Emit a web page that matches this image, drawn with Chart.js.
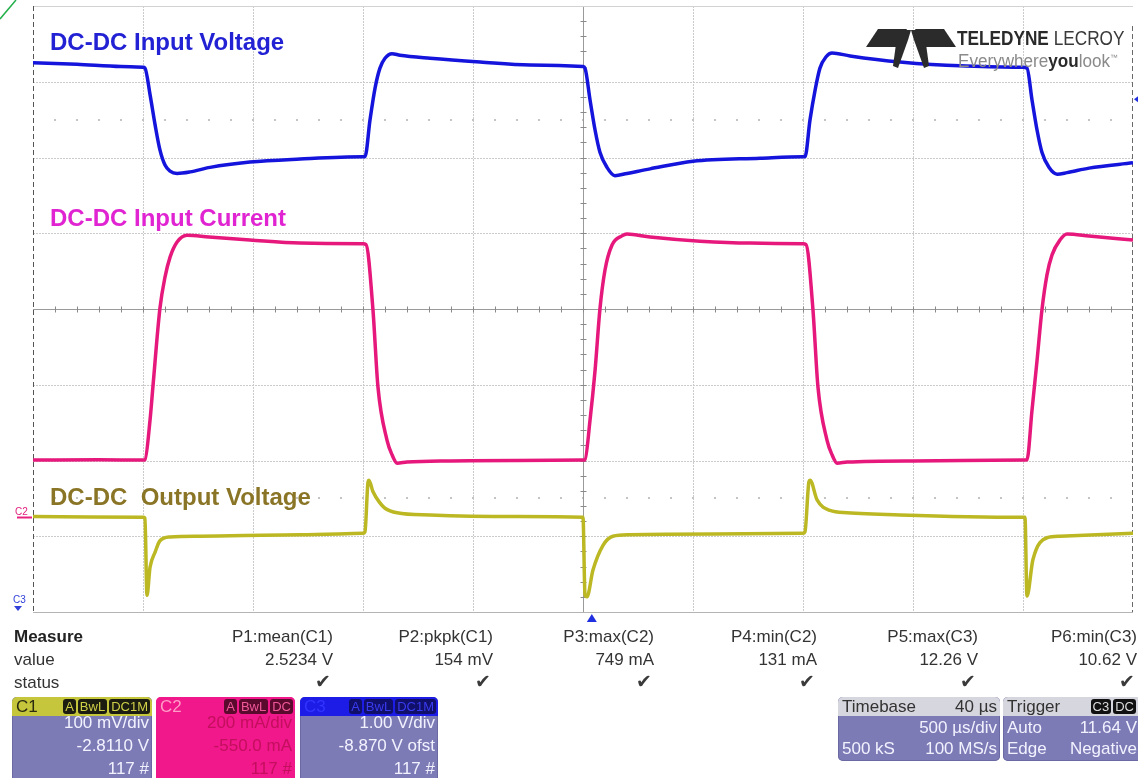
<!DOCTYPE html>
<html>
<head>
<meta charset="utf-8">
<title>DC-DC converter load step</title>
<script src="https://cdn.jsdelivr.net/npm/chart.js@4.4.1/dist/chart.umd.min.js"></script>
<style>
  html, body { margin: 0; padding: 0; background: #ffffff; }
  #wrap { position: relative; width: 1138px; height: 778px; overflow: hidden;
          font-family: "Liberation Sans", Arial, sans-serif; }
  #scope { position: absolute; left: 0; top: 0; }
  .trace-label { position: absolute; font-weight: bold; font-size: 24px; line-height: 24px;
                 white-space: pre; font-family: "Liberation Sans", Arial, sans-serif; }
  .logo-top { position: absolute; left: 957px; top: 27px; font-size: 21px; line-height: 21px;
              color: #2a2a2a; white-space: pre; transform-origin: 0 0; transform: scaleX(0.82); }
  .logo-top b { font-weight: bold; }
  .logo-top span { font-weight: normal; color: #3a3a3a; }
  .logo-sub { position: absolute; left: 958px; top: 49px; font-size: 18px; line-height: 18px;
              color: #8a8a8a; white-space: pre; transform-origin: 0 0; transform: scaleX(0.95); }
  .logo-sub b { color: #2a2a2a; }
  .logo-sub sup { font-size: 8px; }
  .mtxt { position: absolute; font-size: 17px; line-height: 17px; color: #333; white-space: pre; }
  .mhead { font-weight: bold; color: #222; }
  .check { position: absolute; font-family: "DejaVu Sans", sans-serif; font-size: 19px; line-height: 19px; color: #3a3a3a; }
  .box { position: absolute; top: 697px; border-radius: 5px; overflow: hidden;
         background: #7d7bb6; box-shadow: inset 0 0 0 1px #6b69a3; }
  .head { position: absolute; left: 0; right: 0; top: 0; height: 19px; }
  .head .name { position: absolute; left: 4px; top: 1px; font-size: 17px; line-height: 17px; }
  .badges { position: absolute; right: 2px; top: 2px; display: flex; gap: 2px; }
  .badges span { font-size: 13px; line-height: 15px; padding: 0 2px; border-radius: 3px; }
  .bl { position: absolute; font-size: 17px; line-height: 17px; color: #f2f2ff; white-space: pre; }
  .r { right: 3px; }
  .l { left: 4px; }
</style>
</head>
<body>
<div id="wrap">
  <canvas id="scope" width="1138" height="778"></canvas>

  <div class="trace-label" style="left:50px; top:30px; color:#2222d4;">DC-DC Input Voltage</div>
  <div class="trace-label" style="left:50px; top:206px; color:#e024d2;">DC-DC Input Current</div>
  <div class="trace-label" style="left:50px; top:485px; color:#8a7526;">DC-DC  Output Voltage</div>

  <div class="logo-top"><b>TELEDYNE</b> <span>LECROY</span></div>
  <div class="logo-sub">Everywhere<b>you</b>look<sup>™</sup></div>

  <div id="panel"></div>

  <!-- channel descriptor boxes -->
  <div class="box" style="left:12px; width:140px; height:90px;">
    <div class="head" style="background:#c6c63c;">
      <div class="name" style="color:#2a2a10;">C1</div>
      <div class="badges">
        <span style="background:#1c1c10; color:#cfcf48;">A</span>
        <span style="background:#1c1c10; color:#cfcf48;">BwL</span>
        <span style="background:#1c1c10; color:#cfcf48;">DC1M</span>
      </div>
    </div>
    <div class="bl r" style="top:17px;">100 mV/div</div>
    <div class="bl r" style="top:40px;">-2.8110 V</div>
    <div class="bl r" style="top:63px;">117 #</div>
  </div>

  <div class="box" style="left:156px; width:139px; height:90px; background:#f0188a; box-shadow:none;">
    <div class="head" style="background:#f0188a;">
      <div class="name" style="color:#ff9cc8;">C2</div>
      <div class="badges">
        <span style="background:#5a0a2c; color:#f0589c;">A</span>
        <span style="background:#5a0a2c; color:#f0589c;">BwL</span>
        <span style="background:#5a0a2c; color:#f0589c;">DC</span>
      </div>
    </div>
    <div class="bl r" style="top:17px; color:#c40e5e;">200 mA/div</div>
    <div class="bl r" style="top:40px; color:#c40e5e;">-550.0 mA</div>
    <div class="bl r" style="top:63px; color:#c40e5e;">117 #</div>
  </div>

  <div class="box" style="left:300px; width:138px; height:90px;">
    <div class="head" style="background:#1c1ce6;">
      <div class="name" style="color:#3434ff;">C3</div>
      <div class="badges">
        <span style="background:#10106a; color:#3a3af0;">A</span>
        <span style="background:#10106a; color:#3a3af0;">BwL</span>
        <span style="background:#10106a; color:#3a3af0;">DC1M</span>
      </div>
    </div>
    <div class="bl r" style="top:17px;">1.00 V/div</div>
    <div class="bl r" style="top:40px;">-8.870 V ofst</div>
    <div class="bl r" style="top:63px;">117 #</div>
  </div>

  <div class="box" style="left:838px; width:162px; height:64px;">
    <div class="head" style="background:#d6d6de;">
      <div class="name" style="color:#333;">Timebase</div>
      <div class="bl r" style="top:1px; color:#333;">40 µs</div>
    </div>
    <div class="bl r" style="top:22px;">500 µs/div</div>
    <div class="bl l" style="top:43px;">500 kS</div>
    <div class="bl r" style="top:43px;">100 MS/s</div>
  </div>

  <div class="box" style="left:1003px; width:140px; height:64px;">
    <div class="head" style="background:#d6d6de;">
      <div class="name" style="color:#333;">Trigger</div>
      <div class="badges" style="right:7px;">
        <span style="background:#111; color:#ddd;">C3</span>
        <span style="background:#111; color:#ddd;">DC</span>
      </div>
    </div>
    <div class="bl l" style="top:22px;">Auto</div>
    <div class="bl r" style="top:22px; right:6px;">11.64 V</div>
    <div class="bl l" style="top:43px;">Edge</div>
    <div class="bl r" style="top:43px; right:6px;">Negative</div>
  </div>
</div>

<script>
// ---- acquisition settings ----
const US_PER_DIV = 500;          // timebase
const H_DIVS = 10;
const V_DIVS = 8;
const TRIGGER_DELAY_US = 40;
const TRIGGER_LEVEL_V = 11.64;    // C3, negative edge

const C1_V_PER_DIV = 0.1,  C1_OFFSET_V = -2.811;   // output voltage
const C2_MA_PER_DIV = 200, C2_OFFSET_MA = -550;    // input current
const C3_V_PER_DIV = 1.0,  C3_OFFSET_V = -8.870;   // input voltage

// ---- C3: DC-DC input voltage (V) ----
const c3TimeUs = [-2500,-2300,-2100,-2000,-1991,-1968,-1945,-1923,-1900,-1877,
                  -1845,-1786,-1695,-1514,-1286,-1000,-991,-968,-945,-923,
                  -900,-868,-832,-695,-468,-241,0,9,32,55,
                  77,109,145,200,305,500,805,1000,1009,1032,
                  1055,1077,1105,1132,1214,1441,1714,2000,2018,2041,
                  2064,2086,2118,2155,2200,2300,2500];
const c3Volts = [12.12,12.10,12.07,12.06,12.05,11.70,11.30,10.97,10.77,10.69,
                 10.66,10.68,10.74,10.81,10.85,10.88,10.88,11.37,11.79,12.05,
                 12.18,12.24,12.22,12.18,12.13,12.09,12.07,12.05,11.63,11.23,
                 10.94,10.74,10.63,10.66,10.72,10.82,10.86,10.88,10.88,11.37,
                 11.76,12.05,12.20,12.25,12.21,12.13,12.08,12.06,12.05,11.63,
                 11.23,10.94,10.74,10.65,10.67,10.73,10.80];

// ---- C2: DC-DC input current (mA) ----
const c2TimeUs = [-2500,-2200,-2000,-1991,-1968,-1955,-1923,-1900,-1877,-1845,
                  -1800,-1700,-1514,-1286,-1000,-986,-955,-932,-891,-868,
                  -845,-800,-600,-300,0,9,32,55,77,100,
                  132,177,200,305,532,759,1000,1014,1045,1068,
                  1109,1132,1155,1200,1500,2000,2018,2041,2064,2086,
                  2109,2132,2168,2200,2300,2500];
const c2MilliAmps = [151,152,151,152,257,344,552,634,687,727,
                     745,740,732,724,722,720,550,344,204,165,
                     143,146,149,150,151,152,257,389,550,653,
                     719,743,748,740,729,724,722,720,550,344,
                     204,165,143,146,149,151,152,283,415,547,
                     640,693,732,748,743,732];

// ---- C1: DC-DC output voltage (V) ----
const c1TimeUs = [-2500,-2000,-1991,-1982,-1968,-1945,-1923,-1877,-1741,-1286,
                  -1000,-991,-977,-973,-955,-923,-900,-845,-695,-300,
                  0,9,18,45,91,136,214,600,1000,1009,
                  1027,1032,1064,1123,1200,1441,2000,2009,2018,2045,
                  2109,2168,2500];
const c1Volts = [2.537,2.536,2.535,2.433,2.470,2.490,2.505,2.510,2.511,2.513,
                 2.515,2.517,2.583,2.585,2.570,2.555,2.548,2.542,2.539,2.537,
                 2.536,2.434,2.431,2.466,2.499,2.511,2.513,2.514,2.515,2.517,
                 2.583,2.585,2.559,2.545,2.542,2.539,2.536,2.536,2.432,2.480,
                 2.509,2.511,2.515];

// ---- measurement table ----
const measureNames  = ['P1:mean(C1)','P2:pkpk(C1)','P3:max(C2)','P4:min(C2)','P5:max(C3)','P6:min(C3)'];
const measureValues = ['2.5234 V','154 mV','749 mA','131 mA','12.26 V','10.62 V'];

const toPoints = (ts, vs) => ts.map((t, i) => ({ x: t, y: vs[i] }));

// y-range of a channel from its volts/div and offset, centred on screen
const range = (perDiv, offset) => ({ min: -offset - perDiv * V_DIVS / 2, max: -offset + perDiv * V_DIVS / 2 });

const GRID = '#cbcbcb';
const AXIS = '#9a9a9a';

// graticule: dotted division lines, centre cross with minor ticks, frame
const graticule = {
  id: 'graticule',
  beforeDatasetsDraw(chart) {
    const { ctx, chartArea: a, scales } = chart;
    const xs = scales.x, ds = scales.div;
    ctx.save();
    ctx.lineWidth = 1;
    // division lines
    ctx.strokeStyle = GRID;
    ctx.setLineDash([2, 1]);
    for (let i = 1; i < H_DIVS; i++) {
      if (i === H_DIVS / 2) continue;
      const px = Math.round(xs.getPixelForValue(xs.min + i * US_PER_DIV)) + 0.5;
      ctx.beginPath(); ctx.moveTo(px, a.top); ctx.lineTo(px, a.bottom); ctx.stroke();
    }
    for (let j = 1; j < V_DIVS; j++) {
      if (j === V_DIVS / 2) continue;
      const py = Math.round(ds.getPixelForValue(-V_DIVS / 2 + j)) + 0.5;
      ctx.beginPath(); ctx.moveTo(a.left, py); ctx.lineTo(a.right, py); ctx.stroke();
    }
    ctx.setLineDash([]);
    // rows of minor dots half way between divisions
    ctx.fillStyle = '#c4c4c4';
    [2.5, -2.5].forEach(d => {
      const py = Math.round(ds.getPixelForValue(d));
      for (let k = 1; k < H_DIVS * 5; k++) {
        const px = Math.round(xs.getPixelForValue(xs.min + k * US_PER_DIV / 5));
        ctx.fillRect(px - 1, py - 1, 2, 2);
      }
    });
    // centre cross with minor ticks
    const cx = Math.round(xs.getPixelForValue(0)) + 0.5;
    const cy = Math.round(ds.getPixelForValue(0)) + 0.5;
    ctx.strokeStyle = AXIS;
    ctx.beginPath(); ctx.moveTo(cx, a.top); ctx.lineTo(cx, a.bottom); ctx.stroke();
    ctx.beginPath(); ctx.moveTo(a.left, cy); ctx.lineTo(a.right, cy); ctx.stroke();
    ctx.strokeStyle = '#8a8a8a';
    for (let k = 1; k < H_DIVS * 5; k++) {
      const px = Math.round(xs.getPixelForValue(xs.min + k * US_PER_DIV / 5)) + 0.5;
      ctx.beginPath(); ctx.moveTo(px, cy - 3); ctx.lineTo(px, cy + 3); ctx.stroke();
    }
    for (let k = 1; k < V_DIVS * 5; k++) {
      const py = Math.round(ds.getPixelForValue(-V_DIVS / 2 + k / 5)) + 0.5;
      ctx.beginPath(); ctx.moveTo(cx - 3, py); ctx.lineTo(cx + 3, py); ctx.stroke();
    }
    // frame
    ctx.strokeStyle = '#d2d2d2';
    ctx.beginPath(); ctx.moveTo(a.left, a.top + 0.5); ctx.lineTo(a.right, a.top + 0.5); ctx.stroke();
    ctx.strokeStyle = '#b4b4b4';
    ctx.beginPath(); ctx.moveTo(a.left, a.bottom + 0.5); ctx.lineTo(a.right, a.bottom + 0.5); ctx.stroke();
    ctx.strokeStyle = '#555';
    ctx.setLineDash([5, 3]);
    ctx.beginPath(); ctx.moveTo(a.left + 0.5, a.top); ctx.lineTo(a.left + 0.5, a.bottom); ctx.stroke();
    ctx.strokeStyle = '#6a6a6a';
    ctx.beginPath(); ctx.moveTo(a.right - 0.5, a.top + 20); ctx.lineTo(a.right - 0.5, a.bottom); ctx.stroke();
    ctx.restore();
  }
};

// channel/trigger markers and the vendor mark
const markers = {
  id: 'markers',
  afterDatasetsDraw(chart) {
    const { ctx, chartArea: a, scales } = chart;
    ctx.save();
    const poly = (pts, fill) => {
      ctx.fillStyle = fill;
      ctx.beginPath();
      pts.forEach((p, i) => i ? ctx.lineTo(p[0], p[1]) : ctx.moveTo(p[0], p[1]));
      ctx.closePath(); ctx.fill();
    };
    // trigger position
    const tx = scales.x.getPixelForValue(TRIGGER_DELAY_US);
    poly([[tx, a.bottom + 2], [tx + 5, a.bottom + 10], [tx - 5, a.bottom + 10]], '#2030e0');
    // trigger level on C3
    const ty = scales.yC3.getPixelForValue(TRIGGER_LEVEL_V);
    poly([[a.right + 1, ty], [a.right + 5, ty - 3], [a.right + 5, ty + 3]], '#2030e0');
    // C2 ground reference
    const gy = Math.round(scales.yC2.getPixelForValue(0)) + 0.5;
    ctx.strokeStyle = '#e8207e'; ctx.lineWidth = 2;
    ctx.beginPath(); ctx.moveTo(17, gy); ctx.lineTo(a.left - 1, gy); ctx.stroke();
    ctx.font = '10px "Liberation Sans", Arial, sans-serif';
    ctx.fillStyle = '#e0207e';
    ctx.textBaseline = 'alphabetic';
    ctx.fillText('C2', 15, gy - 3);
    // C3 ground reference is below the screen
    ctx.fillStyle = '#3040d8';
    ctx.fillText('C3', 13, 603);
    poly([[14, 606], [22, 606], [18, 611]], '#3040d8');
    // green corner stroke
    ctx.strokeStyle = '#22b04a'; ctx.lineWidth = 1.5;
    ctx.beginPath(); ctx.moveTo(0, 19); ctx.lineTo(16, 0); ctx.stroke();
    // vendor mark
    const ink = '#2b2b2b';
    poly([[878, 29], [907, 29], [897, 47], [866, 47]], ink);
    poly([[915, 29], [944, 29], [956, 47], [925, 47]], ink);
    poly([[898, 30], [911, 30], [908, 40], [898, 68], [893, 66], [896, 44]], ink);
    poly([[911, 30], [924, 30], [926, 44], [929, 66], [924, 68], [914, 40]], ink);
    ctx.restore();
  }
};

const traceStyle = { pointRadius: 0, borderWidth: 3.5, cubicInterpolationMode: 'monotone', fill: false };

new Chart(document.getElementById('scope'), {
  type: 'line',
  data: {
    datasets: [
      { label: 'C3 input voltage', data: toPoints(c3TimeUs, c3Volts), yAxisID: 'yC3', borderColor: '#1414dc', ...traceStyle },
      { label: 'C2 input current', data: toPoints(c2TimeUs, c2MilliAmps), yAxisID: 'yC2', borderColor: '#e6187c', ...traceStyle },
      { label: 'C1 output voltage', data: toPoints(c1TimeUs, c1Volts), yAxisID: 'yC1', borderColor: '#bcb823', ...traceStyle }
    ]
  },
  options: {
    responsive: false,
    animation: false,
    parsing: false,
    layout: { padding: { left: 33, right: 5, top: 6, bottom: 166 } },
    plugins: { legend: { display: false }, tooltip: { enabled: false } },
    scales: {
      x:   { axis: 'x', type: 'linear', min: -US_PER_DIV * H_DIVS / 2, max: US_PER_DIV * H_DIVS / 2, display: false },
      div: { axis: 'y', type: 'linear', min: -V_DIVS / 2, max: V_DIVS / 2, display: false },
      yC1: { axis: 'y', type: 'linear', ...range(C1_V_PER_DIV, C1_OFFSET_V), display: false },
      yC2: { axis: 'y', type: 'linear', ...range(C2_MA_PER_DIV, C2_OFFSET_MA), display: false },
      yC3: { axis: 'y', type: 'linear', ...range(C3_V_PER_DIV, C3_OFFSET_V), display: false }
    }
  },
  plugins: [graticule, markers]
});

// measurement table under the screen
(function buildTable() {
  const panel = document.getElementById('panel');
  const add = (cls, text, style) => {
    const el = document.createElement('div');
    el.className = cls; el.textContent = text;
    Object.assign(el.style, style);
    panel.appendChild(el);
  };
  add('mtxt mhead', 'Measure', { left: '14px', top: '628px' });
  add('mtxt', 'value', { left: '14px', top: '651px' });
  add('mtxt', 'status', { left: '14px', top: '674px' });
  const rightEdges = [333, 493, 654, 817, 978, 1137];
  measureNames.forEach((name, i) => {
    const right = (1138 - rightEdges[i]) + 'px';
    add('mtxt', name, { right, top: '628px' });
    add('mtxt', measureValues[i], { right, top: '651px' });
    add('check', '\u2714', { right: (1138 - rightEdges[i] + 2) + 'px', top: '672px' });
  });
})();
</script>
</body>
</html>
